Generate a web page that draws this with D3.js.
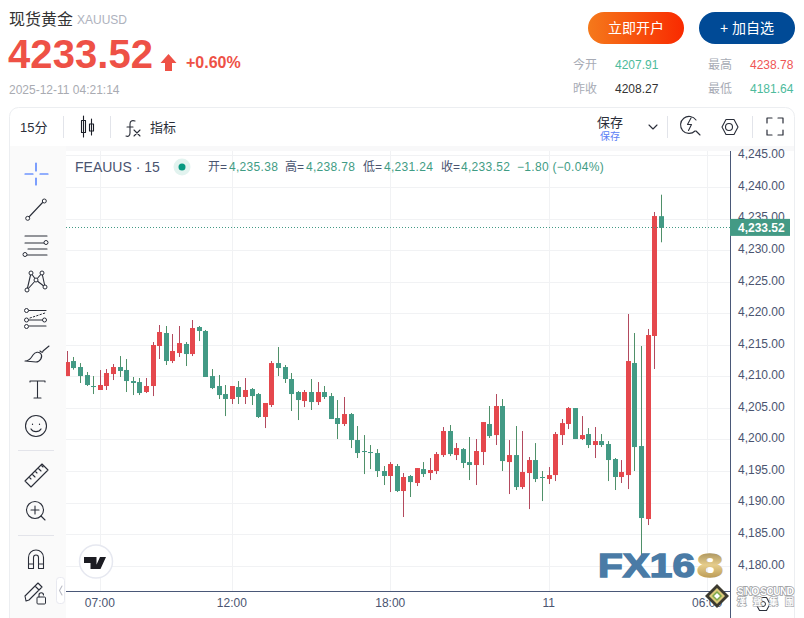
<!DOCTYPE html>
<html><head><meta charset="utf-8">
<script src="https://cdnjs.cloudflare.com/ajax/libs/d3/7.8.5/d3.min.js"></script>
<style>html,body{margin:0;padding:0;background:#fff;overflow:hidden}svg{display:block}
text{font-family:"Liberation Sans","Noto Sans CJK SC",sans-serif}</style></head><body>
<div id="c"></div>
<script>
const firstBar = "2025-12-10T05:45:00Z";
const barMinutes = 15;
const openValues = [4210.04,4212.42,4211.47,4210.20,4208.46,4207.83,4208.46,4210.36,4211.47,4211.00,4209.25,4209.09,4207.51,4208.46,4214.80,4216.86,4212.42,4213.69,4215.12,4213.53,4217.81,4217.18,4210.04,4208.46,4207.19,4206.40,4208.30,4206.72,4207.98,4207.19,4203.55,4205.45,4212.10,4211.47,4209.57,4207.51,4206.08,4207.51,4205.92,4207.51,4206.87,4203.39,4202.44,4204.02,4199.90,4198.16,4198.00,4197.84,4194.99,4194.20,4195.78,4191.82,4194.20,4193.09,4195.30,4194.67,4194.99,4197.52,4201.33,4197.52,4198.47,4196.41,4195.94,4198.00,4202.44,4200.69,4205.29,4196.41,4197.52,4192.45,4194.67,4196.73,4194.04,4193.72,4194.35,4200.69,4202.44,4204.97,4200.06,4200.85,4199.11,4199.74,4199.27,4196.89,4194.04,4194.35,4212.11,4198.95,4187.38,4216.39,4235.38];
const highValues = [4214.01,4213.06,4212.10,4210.68,4210.04,4211.00,4211.15,4211.95,4213.21,4212.74,4209.89,4209.73,4209.73,4215.43,4218.13,4217.97,4216.70,4217.97,4215.43,4218.92,4217.97,4217.34,4211.15,4210.20,4208.62,4208.46,4209.25,4209.73,4208.14,4207.35,4205.77,4212.42,4214.64,4211.79,4210.52,4207.67,4207.83,4209.57,4209.09,4208.46,4207.35,4206.24,4206.72,4204.18,4202.12,4200.69,4199.11,4198.47,4195.78,4196.41,4196.10,4194.67,4194.35,4195.46,4196.41,4197.05,4198.00,4201.96,4202.28,4199.43,4198.63,4200.38,4200.06,4202.75,4205.29,4207.19,4206.40,4199.90,4202.12,4201.33,4197.21,4199.42,4194.99,4195.62,4201.17,4203.23,4205.13,4204.97,4203.70,4201.80,4201.96,4200.85,4199.74,4197.05,4196.73,4219.87,4216.86,4214.80,4217.50,4236.04,4238.78];
const lowValues = [4210.04,4211.05,4208.94,4208.46,4207.19,4207.83,4207.83,4209.41,4209.89,4207.51,4207.03,4207.03,4207.35,4206.87,4212.74,4211.79,4212.10,4213.06,4211.63,4213.21,4215.59,4209.89,4207.98,4206.40,4203.70,4205.61,4205.61,4205.61,4205.45,4203.39,4201.80,4205.13,4210.04,4208.94,4204.50,4203.07,4205.13,4204.66,4205.45,4206.40,4203.23,4200.06,4202.12,4198.63,4197.05,4194.51,4195.30,4194.04,4192.77,4191.66,4191.66,4187.70,4190.87,4192.61,4194.04,4193.56,4194.51,4197.21,4197.36,4196.73,4195.46,4193.56,4192.77,4195.94,4200.22,4199.11,4194.99,4191.34,4191.98,4192.13,4188.96,4193.24,4190.23,4192.93,4193.40,4199.11,4201.64,4200.06,4199.90,4198.63,4197.05,4198.79,4193.40,4191.98,4193.09,4192.13,4194.99,4181.64,4186.43,4211.16,4231.24];
const closeValues = [4212.26,4211.31,4210.04,4208.62,4208.30,4208.62,4210.52,4211.47,4210.84,4209.25,4208.94,4207.35,4208.46,4214.96,4217.02,4212.42,4214.01,4215.27,4213.53,4217.65,4217.18,4209.89,4208.14,4207.03,4206.40,4208.46,4206.72,4207.83,4206.87,4203.55,4205.77,4212.10,4211.31,4209.57,4207.19,4206.24,4207.51,4205.92,4207.51,4206.72,4203.23,4202.44,4204.02,4199.90,4197.84,4198.00,4197.84,4194.99,4194.20,4196.10,4191.82,4194.04,4193.24,4195.46,4194.51,4195.15,4197.68,4201.33,4197.68,4198.63,4196.26,4195.94,4198.16,4202.75,4200.53,4205.29,4196.57,4197.52,4192.45,4194.83,4196.73,4193.72,4193.88,4194.35,4200.85,4202.59,4204.97,4200.06,4200.69,4199.11,4199.74,4199.11,4196.73,4194.04,4194.83,4212.42,4198.79,4187.54,4216.54,4235.40,4233.52];
const priceTicks = [4180,4185,4190,4195,4200,4205,4210,4215,4220,4225,4230,4235,4240,4245];
const timeTicks = ["2025-12-10T07:00:00Z","2025-12-10T12:00:00Z","2025-12-10T18:00:00Z","2025-12-11T00:00:00Z","2025-12-11T06:00:00Z"];
const timeLabels = ["07:00","12:00","18:00","11","06:00"];
const lastPrice = 4233.52;
const legendParts = [["开=",208,"#4a5470"],["4,235.38",229,"#3f9c84"],["高=",285,"#4a5470"],["4,238.78",306,"#3f9c84"],["低=",363,"#4a5470"],["4,231.24",384,"#3f9c84"],["收=",441,"#4a5470"],["4,233.52",461,"#3f9c84"],["−1.80 (−0.04%)",517,"#3f9c84"]];
const statRows = [["今开",573,65,"#a7abb5"],["4207.91",615,65,"#4dbb9c"],["最高",708,65,"#a7abb5"],["4238.78",750,65,"#ef5555"],["昨收",573,89,"#a7abb5"],["4208.27",615,89,"#333"],["最低",708,89,"#a7abb5"],["4181.64",750,89,"#4dbb9c"]];

const W=804,H=618;
const RED="#e5484d",GREEN="#439a85",RW="#b34a5e",GW="#4f9069",AX="#4a5878",TXT="#4a5470",GRID="#f1f2f4",ICON="#2a2e39";
const svg=d3.select("#c").append("svg").attr("width",W).attr("height",H).attr("viewBox",`0 0 ${W} ${H}`);
const y=d3.scaleLinear().domain([4180,4240]).range([565.6,187]);
const x=d3.scaleUtc().domain([new Date(timeTicks[0]),new Date(timeTicks[4])]).range([100.3,707.6]);
const t0=+new Date(firstBar);
const bars=openValues.map((o,i)=>({t:new Date(t0+i*barMinutes*60000),o,h:highValues[i],l:lowValues[i],c:closeValues[i]}));
function T(s,px,py,size,fill,opt={}){const e=svg.append("text").attr("x",px).attr("y",py).attr("font-size",size).attr("fill",fill).text(s);
  if(opt.w)e.attr("font-weight",opt.w); if(opt.a)e.attr("text-anchor",opt.a); return e;}

// header
T("现货黄金",9,25,16,"#333");
T("XAUUSD",77,24,12,"#aeb2bd");
T("4233.52",8,68,40,"#ee5146",{w:"bold"}).attr("textLength",145);
svg.append("path").attr("d","M168.5 54 L176.5 63 L172 63 L172 71 L165 71 L165 63 L160.5 63 Z").attr("fill","#ee5146");
T("+0.60%",186,68,16,"#ee5146",{w:"bold"});
T("2025-12-11 04:21:14",9,94,12,"#a9abb2");
const defs=svg.append("defs");
const g=defs.append("linearGradient").attr("id","btn");
g.append("stop").attr("offset","0").attr("stop-color","#f5791b");
g.append("stop").attr("offset","1").attr("stop-color","#f92a00");
const g8=defs.append("linearGradient").attr("id","gold").attr("x1",0).attr("x2",0).attr("y1",0).attr("y2",1);
g8.append("stop").attr("offset","0").attr("stop-color","#8f7a4a");
g8.append("stop").attr("offset","0.5").attr("stop-color","#e6cd8b");
g8.append("stop").attr("offset","1").attr("stop-color","#a8853f");
defs.append("clipPath").attr("id","plot").append("rect").attr("x",66).attr("y",151).attr("width",664).attr("height",440);
svg.append("rect").attr("x",588).attr("y",12).attr("width",96).attr("height",32).attr("rx",16).attr("fill","url(#btn)");
svg.append("rect").attr("x",699).attr("y",12).attr("width",96).attr("height",32).attr("rx",16).attr("fill","#004a96");
T("立即开户",636,33,14,"#fff",{a:"middle"});
T("+ 加自选",747,33,14,"#fff",{a:"middle"});
statRows.forEach(r=>T(r[0],r[1],r[2]+4,12,r[3]));

// panel
svg.append("rect").attr("x",9.5).attr("y",107.5).attr("width",785).attr("height",530).attr("rx",9).attr("fill","#fff").attr("stroke","#eceef1");
svg.append("rect").attr("x",10).attr("y",146).attr("width",784).attr("height",5).attr("fill","#f8f8f9");
svg.append("rect").attr("x",10).attr("y",146).attr("width",56).attr("height",472).attr("fill","#fafafa");
// toolbar
T("15分",20,132,13,"#2a2e39");
[[63.5,116,138],[110.5,116,138],[667.5,116,138],[752.5,116,138]].forEach(d=>svg.append("line").attr("x1",d[0]).attr("x2",d[0]).attr("y1",d[1]).attr("y2",d[2]).attr("stroke","#e2e4ea"));
function P(d,o={}){return svg.append("path").attr("d",d).attr("fill",o.fill||"none").attr("stroke",o.stroke||ICON).attr("stroke-width",o.sw||1.1).attr("stroke-linecap","round").attr("stroke-linejoin","round");}
P("M83.5 116V137 M81.5 120.5h4v12h-4z M91.5 119V135 M89.5 124h4v7h-4z",{stroke:"#1c1f28"});
P("M135 121c-3-1-5 0-5 3v9c0 3-2 4-4 3 M127 127h6 M134 130l6 6 M140 130l-6 6");
T("指标",150,132,13,"#2a2e39");
T("保存",597,127,13,"#2a2e39");
T("保存",600,140,10,"#5c7ef5");
P("M649 125l4 4 4-4");
P("M695 131a8.5 8.5 0 1 1 1-11 M696 131l4 4 M691 118l-3.5 6.5h4l-3 6",{sw:1.1});
P("M722 127l4-7.5h8l4 7.5-4 7.5h-8z");
svg.append("circle").attr("cx",729).attr("cy",127).attr("r",3.5).attr("fill","none").attr("stroke",ICON).attr("stroke-width",1.1);
P("M767 123v-5h5 M778 118h5v5 M783 130v5h-5 M772 135h-5v-5",{sw:1.2});

// grid
const plot=svg.append("g");
plot.selectAll(".gy").data(priceTicks).join("line").attr("x1",66).attr("x2",730).attr("y1",d=>Math.round(y(d))+.5).attr("y2",d=>Math.round(y(d))+.5).attr("stroke",GRID);
plot.selectAll(".gx").data(timeTicks).join("line").attr("x1",d=>Math.floor(x(new Date(d)))+.5).attr("x2",d=>Math.floor(x(new Date(d)))+.5).attr("y1",151).attr("y2",591).attr("stroke",GRID);

// candles
const cg=svg.append("g").attr("clip-path","url(#plot)");
const up=d=>d.c>=d.o;
cg.selectAll(".wick").data(bars).join("rect").attr("x",d=>Math.floor(x(d.t))).attr("width",1)
  .attr("y",d=>y(d.h)).attr("height",d=>y(d.l)-y(d.h)).attr("fill",d=>up(d)?RW:GW);
cg.selectAll(".body").data(bars).join("rect").attr("x",d=>Math.floor(x(d.t))-2).attr("width",5)
  .attr("y",d=>y(Math.max(d.o,d.c))).attr("height",d=>Math.max(1,Math.abs(y(d.o)-y(d.c)))).attr("fill",d=>up(d)?RED:GREEN);

// axes
const yAxis=d3.axisRight(y).tickValues(priceTicks).tickSize(0).tickPadding(8).tickFormat(d3.format(",.2f"));
const ay=svg.append("g").attr("transform","translate(730,0)").call(yAxis);
ay.select(".domain").remove();
ay.selectAll("text").attr("font-size",12).attr("fill",TXT).attr("dy","0.2em").style("font-family",'"Liberation Sans",sans-serif');
const xAxis=d3.axisBottom(x).tickValues(timeTicks.map(d=>new Date(d))).tickSize(0).tickPadding(7).tickFormat((d,i)=>timeLabels[i]);
const ax=svg.append("g").attr("transform","translate(-1,591)").call(xAxis);
ax.select(".domain").remove();
ax.selectAll("text").attr("font-size",12).attr("fill",TXT).style("font-family",'"Liberation Sans",sans-serif');
svg.append("line").attr("x1",66).attr("x2",730).attr("y1",591.5).attr("y2",591.5).attr("stroke",AX).attr("stroke-width",1);
svg.append("line").attr("x1",730.5).attr("x2",730.5).attr("y1",151).attr("y2",618).attr("stroke",AX).attr("stroke-width",1);

// price line
svg.append("line").attr("x1",66).attr("x2",730).attr("y1",Math.floor(y(lastPrice))+.5).attr("y2",Math.floor(y(lastPrice))+.5).attr("stroke",GREEN).attr("stroke-dasharray","1 2");
svg.append("rect").attr("x",730).attr("y",y(lastPrice)-9).attr("width",60).attr("height",17).attr("fill",GREEN);
T(d3.format(",.2f")(lastPrice),738,y(lastPrice)+4,12,"#fff",{w:"bold"});

// legend
T("FEAUUS · 15",75,172,14,TXT);
svg.append("circle").attr("cx",182).attr("cy",167).attr("r",8.5).attr("fill","#e2f3ef");
svg.append("circle").attr("cx",182).attr("cy",167).attr("r",3.5).attr("fill","#089981");
legendParts.forEach(p=>T(p[0],p[1],171,12,p[2]).attr("letter-spacing",p[2]==="#3f9c84"?0.3:0));

// left tools
const node=(cx,cy,r=2)=>svg.append("circle").attr("cx",cx).attr("cy",cy).attr("r",r).attr("fill","#fff").attr("stroke",ICON).attr("stroke-width",1);
P("M25 174h8 M40 174h8 M36 163v8 M36 178v7",{stroke:"#2962ff",sw:1.2});
P("M28 218L44 201");node(27.7,218.3);node(44.3,201);
P("M25 236h22 M25 243h19 M28 249h19 M25 255h22");node(46,242.5);node(25,254.5);
P("M27 290L31 273L36 280L42 273L45 287 M27 290L36 280L45 287 M31 273L36 280");[[27,290],[31,273],[42,273],[36,280],[45,287]].forEach(n=>node(n[0],n[1]));
P("M29 310.5h17 M29 320h15 M29 326h17");P("M30 318l15-5",{sw:1}).attr("stroke-dasharray","1.5 2");[[26.5,310.5],[26.5,320],[44.5,320],[26.5,326.5]].forEach(n=>node(n[0],n[1]));
P("M25 361c5 0 6-3 8-6 2-3 6-4 8-1 2 3-1 8-5 8z M40 351c1 1 3 2 3 0l6-5");
P("M30 382v-1h15v1 M37.5 381v17 M34 398h7");
svg.append("circle").attr("cx",36).attr("cy",426).attr("r",10.5).attr("fill","none").attr("stroke",ICON).attr("stroke-width",1.1);
P("M31 429c2 3.5 8 3.5 10 0 M32.5 424v.5 M39.5 424v.5",{sw:1.2});
[450.5,535.5].forEach(v=>svg.append("line").attr("x1",18).attr("x2",54).attr("y1",v).attr("y2",v).attr("stroke","#e3e4ea"));
P("M25 481L42 464L48 470L31 487Z M29 477l2 2 M32 474l3 3 M35 471l2 2 M38 468l3 3 M41 465l2 2");
svg.append("circle").attr("cx",35).attr("cy",510).attr("r",8.5).attr("fill","none").attr("stroke",ICON).attr("stroke-width",1.1);
P("M35 506v8 M31 510h8 M41 516l4 4");
P("M28.5 568.5v-11a7.5 7.5 0 0 1 15 0v11h-5v-11a2.5 2.5 0 0 0-5 0v11z M28.5 564h5 M38.5 564h5");
P("M26 601l-1 -5 13-13 4 4-13 13z M35 586l4 4");
svg.append("rect").attr("x",37).attr("y",597).attr("width",8.5).attr("height",7).attr("rx",1).attr("fill","none").attr("stroke",ICON);
P("M39 597v-2a2.2 2.2 0 0 1 4.5 0");
svg.append("rect").attr("x",56.5).attr("y",577.5).attr("width",8).attr("height",26).attr("rx",3).attr("fill","#fff").attr("stroke","#e8e9f0");
P("M62 586l-2.5 4.5 2.5 4.5",{stroke:"#b8bac4"});

// TV mark
svg.append("circle").attr("cx",96).attr("cy",561.5).attr("r",16.5).attr("fill","#fff").attr("stroke","#e6e8f0").attr("stroke-width",1.5);
svg.append("path").attr("d","M84 557h12.5v12h-6v-6h-6.5z M100 557h6l-5.5 12h-6z").attr("fill","#1c1c22");

// FX168 watermark
T("FX16",598,576.5,33,"#4a7ba6",{w:"bold"}).attr("textLength",97).attr("lengthAdjust","spacingAndGlyphs").attr("stroke","#4a7ba6").attr("stroke-width",1.4);
T("8",697,576.5,33,"url(#gold)",{w:"bold"}).attr("textLength",26).attr("lengthAdjust","spacingAndGlyphs").attr("stroke","url(#gold)").attr("stroke-width",1.4);

// sino sound
svg.append("path").attr("d","M717 584l12 12-12 12-12-12z").attr("fill","#3c3a30");
svg.append("path").attr("d","M717 588l8 8-8 8-8-8z").attr("fill","#d9c97a");
svg.append("path").attr("d","M717 592l4 4-4 4-4-4z").attr("fill","#fff").attr("stroke","#7da84b").attr("stroke-width",1.5);
P("M756 604l3.5-6.5h7l3.5 6.5-3.5 6.5h-7z");
svg.append("circle").attr("cx",763).attr("cy",604).attr("r",2.5).attr("fill","none").attr("stroke",ICON);
T("SINO SOUND",737,595,10.5,"#fff",{w:"bold"}).attr("textLength",57).attr("stroke","#9a9ca0").attr("stroke-width",1.6).attr("paint-order","stroke");
T("漢  聲  集  團",737,605,9,"#fff",{w:"bold"}).attr("textLength",57).attr("stroke","#a8aaae").attr("stroke-width",1.4).attr("paint-order","stroke");
</script></body></html>
